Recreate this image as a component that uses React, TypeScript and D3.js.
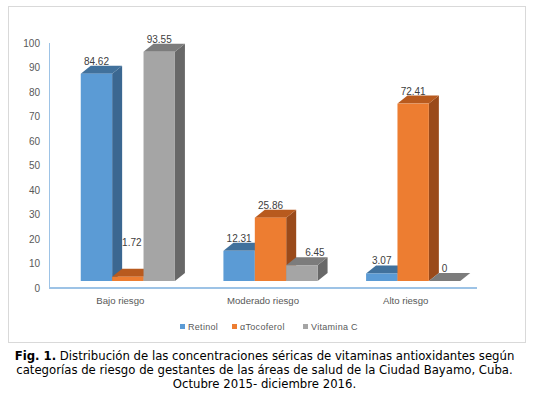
import React from "react";
import * as d3 from "d3";

const categories = ["Bajo riesgo", "Moderado riesgo", "Alto riesgo"];
const seriesNames = ["Retinol", "αTocoferol", "Vitamina C"];
const retinol = [84.62, 12.31, 3.07];
const tocoferol = [1.72, 25.86, 72.41];
const vitaminaC = [93.55, 6.45, 0];
const yTicks = [0, 10, 20, 30, 40, 50, 60, 70, 80, 90, 100];
const captionLines = [
  "Distribución de las concentraciones séricas de vitaminas antioxidantes según",
  "categorías de riesgo de gestantes de las áreas de salud de la Ciudad Bayamo, Cuba.",
  "Octubre 2015- diciembre 2016.",
];

// front / top / side shades per series
const shades = [
  { front: "#5b9bd5", top: "#41719c", side: "#3b6791" },
  { front: "#ed7d31", top: "#b85a1e", side: "#9a4a1a" },
  { front: "#a5a5a5", top: "#7c7c7c", side: "#686868" },
];

// manual nudges Excel applied to a few labels (series-category)
const labelNudge: Record<string, { dx: number; dy: number }> = {
  "1-0": { dx: 4, dy: -22 },
  "2-1": { dx: 13, dy: 0 },
};

const W = 537;
const H = 395;
const depthX = 10;
const depthY = 8;
const chartFont = "'Liberation Sans', Arial, sans-serif";

export default function App() {
  const values = [retinol, tocoferol, vitaminaC];

  const x = d3.scaleBand<string>().domain(categories).range([49, 477]);
  const y = d3.scaleLinear().domain([0, 100]).range([288, 43]);
  const groupW = x.bandwidth() * 0.66;
  const inner = d3.scaleBand<number>().domain([0, 1, 2]).range([0, groupW]);
  const lift = 7; // bars sit halfway back in depth

  const bars: JSX.Element[] = [];
  const labels: JSX.Element[] = [];
  categories.forEach((cat, ci) => {
    const gx = (x(cat) as number) + x.bandwidth() / 2 - groupW / 2 + 7.5;
    [0, 1, 2].forEach((si) => {
      const v = values[si][ci];
      const x0 = gx + (inner(si) as number);
      const w = inner.bandwidth();
      const yb = y(0) - lift;
      const yt = y(v) - lift;
      const c = shades[si];
      bars.push(
        <g key={`b-${ci}-${si}`}>
          <polygon
            points={`${x0 + w},${yt} ${x0 + w + depthX},${yt - depthY} ${x0 + w + depthX},${yb - depthY} ${x0 + w},${yb}`}
            fill={c.side}
          />
          <polygon
            points={`${x0},${yt} ${x0 + depthX},${yt - depthY} ${x0 + w + depthX},${yt - depthY} ${x0 + w},${yt}`}
            fill={c.top}
          />
          <rect x={x0} y={yt} width={w} height={yb - yt} fill={c.front} />
        </g>
      );
      const n = labelNudge[`${si}-${ci}`] || { dx: 0, dy: 0 };
      labels.push(
        <text
          key={`l-${ci}-${si}`}
          x={x0 + w / 2 + n.dx}
          y={yt - depthY - 1 + n.dy}
          textAnchor="middle"
          fontSize={10}
          fill="#404040"
        >
          {String(v)}
        </text>
      );
    });
  });

  const legendX = [180, 232, 303];

  return (
    <svg
      width={W}
      height={H}
      style={{ position: "absolute", left: 0, top: 0, background: "#fff" }}
      fontFamily={chartFont}
    >
      <rect x={8.5} y={6.5} width={517} height={336} fill="#fff" stroke="#d9d9d9" />
      <line x1={49.5} x2={49.5} y1={y(100)} y2={y(0)} stroke="#9dc3e6" strokeWidth={1} />
      <line x1={49} x2={477} y1={y(0)} y2={y(0)} stroke="#9dc3e6" strokeWidth={2} />
      {yTicks.map((t) => (
        <text key={t} x={40} y={y(t)} dy="0.35em" textAnchor="end" fontSize={10} fill="#595959">
          {t}
        </text>
      ))}
      {bars}
      {labels}
      {categories.map((cat) => (
        <text
          key={cat}
          x={(x(cat) as number) + x.bandwidth() / 2}
          y={304}
          textAnchor="middle"
          fontSize={9.6}
          fill="#595959"
        >
          {cat}
        </text>
      ))}
      {seriesNames.map((s, i) => (
        <g key={s}>
          <rect x={legendX[i]} y={324} width={5} height={5} fill={shades[i].front} />
          <text x={legendX[i] + 8} y={330} fontSize={9} fill="#595959" letterSpacing={0.3}>
            {s}
          </text>
        </g>
      ))}
      <g fontFamily="'DejaVu Sans', Verdana, sans-serif" fontSize={11.7} fill="#000">
        <text x={W / 2 - 4} y={360} textAnchor="middle">
          <tspan fontWeight="bold">Fig. 1.</tspan> {captionLines[0]}
        </text>
        <text x={W / 2 - 4} y={374} textAnchor="middle">
          {captionLines[1]}
        </text>
        <text x={W / 2 - 4} y={388} textAnchor="middle">
          {captionLines[2]}
        </text>
      </g>
    </svg>
  );
}
